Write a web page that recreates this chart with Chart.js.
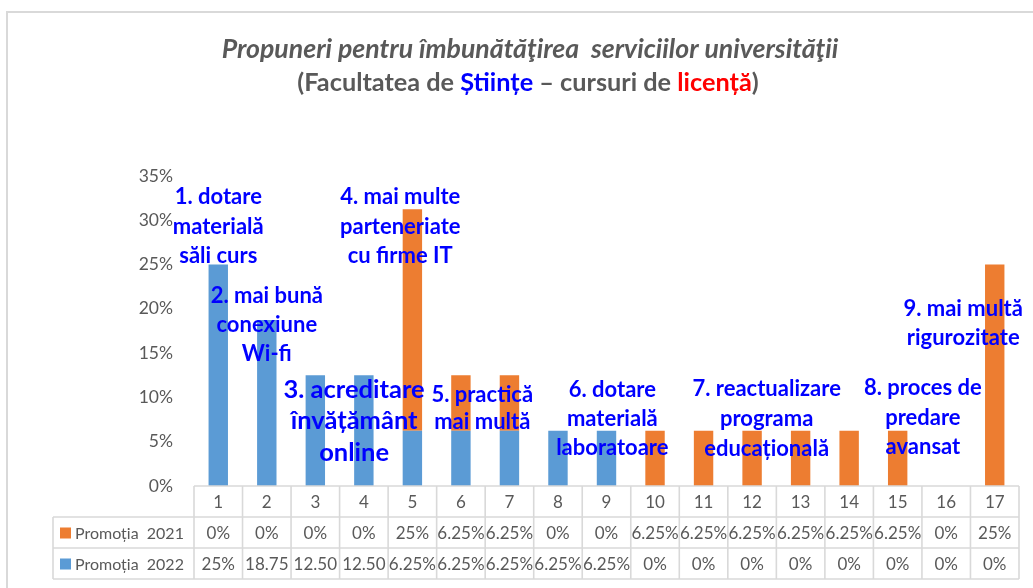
<!DOCTYPE html>
<html><head><meta charset="utf-8">
<script src="https://cdn.jsdelivr.net/npm/chart.js@4.4.0/dist/chart.umd.min.js"></script>
<style>html,body{margin:0;padding:0;background:#fff}#wrap{width:1033px;height:588px;position:relative}</style>
</head><body><div id="wrap"><canvas id="c" width="1033" height="588"></canvas></div>
<script>
const categories = ['1','2','3','4','5','6','7','8','9','10','11','12','13','14','15','16','17'];
const series2021 = [0,0,0,0,25,6.25,6.25,0,0,6.25,6.25,6.25,6.25,6.25,6.25,0,25];
const series2022 = [25,18.75,12.5,12.5,6.25,6.25,6.25,6.25,6.25,0,0,0,0,0,0,0,0];
const labels2021 = ['0%','0%','0%','0%','25%','6.25%','6.25%','0%','0%','6.25%','6.25%','6.25%','6.25%','6.25%','6.25%','0%','25%'];
const labels2022 = ['25%','18.75','12.50','12.50','6.25%','6.25%','6.25%','6.25%','6.25%','0%','0%','0%','0%','0%','0%','0%','0%'];
const seriesNames = ['Promoția  2021','Promoția  2022'];
const titleLine1 = 'Propuneri pentru îmbunătăţirea  serviciilor universităţii';
const titleLine2 = [['(Facultatea de ','#595959'],['Științe','#0000FF'],[' – cursuri de ','#595959'],['licență','#FF0000'],[')','#595959']];
const noteTexts = [
  ['1. dotare','materială','săli curs'],
  ['2. mai bună','conexiune','Wi-fi'],
  ['3. acreditare','învățământ','online'],
  ['4. mai multe','parteneriate','cu firme IT'],
  ['5. practică','mai multă'],
  ['6. dotare','materială','laboratoare'],
  ['7. reactualizare','programa','educațională'],
  ['8. proces de','predare','avansat'],
  ['9. mai multă','rigurozitate']
];
// anchors in data units: [category index, value of first line]
const noteAnchors = [[0,32.6],[1.0,21.45],[2.8,10.9],[3.75,32.6],[5.44,10.3],[8.12,10.84],[11.3,10.95],[14.52,11.06],[15.35,20.0]];
const noteSizes = [22,22,25.5,22,22,22,22,22,22];
const noteSpacing = [29.5,29,31.5,29.5,27,29,30,29.5,29];

const ORANGE = '#ED7D31', BLUE = '#5B9BD5', GRAY = '#595959', GRID = '#d9d9d9';
const FONT = 'Lato, "Open Sans", sans-serif';

function fitFont(ctx, style, text, target) {
  ctx.font = style + ' 20px ' + FONT;
  const w = ctx.measureText(text).width;
  return style + ' ' + (20 * target / w).toFixed(2) + 'px ' + FONT;
}

const decor = {
  id: 'decor',
  beforeDraw(chart) {
    const ctx = chart.ctx;
    ctx.save();
    ctx.fillStyle = '#fff';
    ctx.fillRect(0, 0, chart.width, chart.height);
    ctx.strokeStyle = '#d9d9d9';
    ctx.lineWidth = 2;
    ctx.beginPath();
    ctx.moveTo(7, chart.height + 5);
    ctx.lineTo(7, 12);
    ctx.lineTo(chart.width + 5, 12);
    ctx.stroke();
    ctx.restore();
  },
  afterDraw(chart) {
    const ctx = chart.ctx;
    const ca = chart.chartArea;
    const xs = chart.scales.x;
    const n = categories.length;
    const colW = (ca.right - ca.left) / n;
    const r0 = ca.bottom, r1 = r0 + 31, r2 = r1 + 31, r3 = r2 + 31;
    const legL = 53;
    ctx.save();
    // table grid
    ctx.strokeStyle = GRID;
    ctx.lineWidth = 1.6;
    ctx.beginPath();
    ctx.moveTo(ca.left, r0); ctx.lineTo(ca.right, r0);
    [r1, r2, r3].forEach(y => { ctx.moveTo(legL, y); ctx.lineTo(ca.right, y); });
    for (let i = 0; i <= n; i++) {
      const x = ca.left + i * colW;
      ctx.moveTo(x, r0); ctx.lineTo(x, r3);
    }
    ctx.moveTo(legL, r1); ctx.lineTo(legL, r3);
    ctx.stroke();
    // table text
    ctx.fillStyle = GRAY;
    ctx.font = '17px ' + FONT;
    ctx.textAlign = 'center';
    ctx.textBaseline = 'middle';
    for (let i = 0; i < n; i++) {
      const x = xs.getPixelForValue(i);
      ctx.fillText(categories[i], x, (r0 + r1) / 2 + 1);
      ctx.fillText(labels2021[i], x, (r1 + r2) / 2 + 1);
      ctx.fillText(labels2022[i], x, (r2 + r3) / 2 + 1);
    }
    // legend keys
    ctx.textAlign = 'left';
    ctx.font = '16px ' + FONT;
    [[ORANGE, seriesNames[0], (r1 + r2) / 2], [BLUE, seriesNames[1], (r2 + r3) / 2]].forEach(([c, t, y]) => {
      ctx.fillStyle = c;
      ctx.fillRect(60, y - 5, 11, 11);
      ctx.fillStyle = GRAY;
      ctx.fillText(t, 75, y + 1);
    });
    // title
    ctx.textAlign = 'center';
    ctx.font = fitFont(ctx, 'italic bold', titleLine1, 617);
    ctx.fillStyle = GRAY;
    ctx.fillText(titleLine1, 530, 49);
    const full2 = titleLine2.map(s => s[0]).join('');
    ctx.font = fitFont(ctx, 'bold', full2, 461);
    let total = 0;
    titleLine2.forEach(([t]) => total += ctx.measureText(t).width);
    let x0 = 528 - total / 2;
    ctx.textAlign = 'left';
    titleLine2.forEach(([t, c]) => {
      ctx.fillStyle = c;
      ctx.fillText(t, x0, 83);
      x0 += ctx.measureText(t).width;
    });
    // notes
    const ys = chart.scales.y;
    ctx.textAlign = 'center';
    ctx.fillStyle = '#0000FF';
    noteTexts.forEach((lines, k) => {
      const [ci, v] = noteAnchors[k];
      const cx = ca.left + (ci + 0.5) * colW;
      const cy = ys.getPixelForValue(v);
      ctx.font = 'bold ' + noteSizes[k] + 'px ' + FONT;
      lines.forEach((ln, j) => ctx.fillText(ln, cx, cy + j * noteSpacing[k]));
    });
    ctx.restore();
  }
};

new Chart(document.getElementById('c'), {
  type: 'bar',
  data: {
    labels: categories,
    datasets: [
      { label: seriesNames[1], data: series2022, backgroundColor: BLUE },
      { label: seriesNames[0], data: series2021, backgroundColor: ORANGE }
    ]
  },
  options: {
    responsive: false,
    animation: false,
    devicePixelRatio: 1,
    layout: { padding: { left: 0, right: 14, top: 176, bottom: 102 } },
    datasets: { bar: { categoryPercentage: 0.8, barPercentage: 0.5 } },
    plugins: { legend: { display: false }, title: { display: false }, tooltip: { enabled: false } },
    scales: {
      x: { stacked: true, display: false },
      y: {
        stacked: true, min: 0, max: 35,
        grid: { display: false, drawTicks: false },
        border: { display: false },
        ticks: { stepSize: 5, padding: 21, color: GRAY, font: { family: FONT, size: 17.5 }, callback: v => v + '%' },
        afterFit(s) { s.width = 194; }
      }
    }
  },
  plugins: [decor]
});
</script></body></html>
